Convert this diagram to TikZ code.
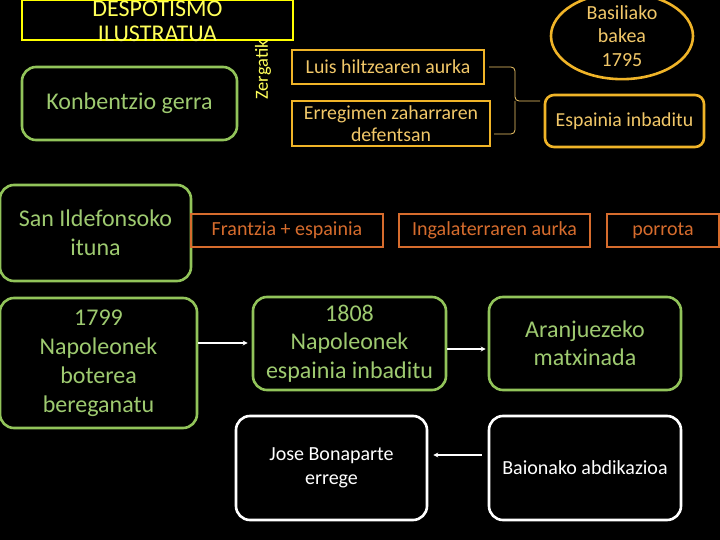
\documentclass[tikz,border=0pt]{standalone}
\usepackage{fontspec}
\setmainfont{Carlito}
\usetikzlibrary{shapes.geometric,arrows.meta}
\definecolor{yel}{RGB}{255,255,0}
\definecolor{yeltx}{RGB}{255,255,90}
\definecolor{gold}{RGB}{240,180,40}
\definecolor{goldtx}{RGB}{242,200,105}
\definecolor{brn}{RGB}{214,108,45}
\definecolor{grn}{RGB}{146,196,90}
\definecolor{grntx}{RGB}{158,202,112}
\tikzset{
  gbox/.style={draw=grn,line width=2.6pt,rounded corners=14pt,inner sep=0pt,align=center,text=grntx},
  wbox/.style={draw=white,line width=2.6pt,rounded corners=14pt,inner sep=0pt,align=center,text=white},
  obox/.style={draw=gold,line width=2.4pt,inner sep=0pt,align=center,text=goldtx},
  bbox/.style={draw=brn,line width=2.4pt,inner sep=0pt,align=center,text=brn},
  arr/.style={draw=white,line width=1.3pt,-{Stealth[length=5pt,width=5pt]}},
  brc/.style={draw=goldtx,line width=0.8pt,rounded corners=4pt}
}
\begin{document}
\begin{tikzpicture}[x=1pt,y=-1pt]
\fill[black] (0,0) rectangle (720,540);
\useasboundingbox (0,0) rectangle (720,540);
\clip (0,0) rectangle (720,540);
% top-left
\node[draw=yel,line width=2.6pt,minimum width=271pt,minimum height=40pt,inner sep=0pt] (desp) at (157.5,20) {};
\node[text=yeltx,align=center,font=\fontsize{24}{25}\selectfont,inner sep=0pt] (despt) at (157.5,21) {DESPOTISMO\\ILUSTRATUA};
\node[gbox,minimum width=215pt,minimum height=73pt,font=\fontsize{24}{28}\selectfont] (konb) at (129.5,103.5) {Konbentzio gerra};
\node[text=yeltx,rotate=90,font=\fontsize{18.5}{22}\selectfont,inner sep=0pt] (zerg) at (263,70) {Zergatik};
% orange boxes
\node[obox,minimum width=192pt,minimum height=34pt,font=\fontsize{19.8}{22}\selectfont] (luis) at (388,67) {Luis hiltzearen aurka};
\node[obox,minimum width=198pt,minimum height=45pt,font=\fontsize{19.8}{22}\selectfont] (erreg) at (391,123.5) {Erregimen zaharraren\\defentsan};
\coordinate (bt) at (540,101);
\draw[brc] ([xshift=4pt]luis.east) -| (515,101) -- (bt);
\draw[brc] ([xshift=3pt]erreg.east |- 0,134) -| (515,101);
\node[draw=gold,line width=2.6pt,ellipse,minimum width=142pt,minimum height=76pt,inner sep=0pt,align=center,text=goldtx,font=\fontsize{20}{23.5}\selectfont] (basil) at (622,36) {Basiliako\\bakea\\1795};
\node[obox,rounded corners=9pt,line width=2.6pt,minimum width=159pt,minimum height=52pt,font=\fontsize{19.8}{22}\selectfont] (espi) at (624.5,121) {Espainia inbaditu};
% row 3
\node[gbox,minimum width=191pt,minimum height=96pt,font=\fontsize{24}{29}\selectfont] (sanild) at (95.5,233) {San Ildefonsoko\\ituna};
\node[bbox,minimum width=192pt,minimum height=33pt,font=\fontsize{20}{22}\selectfont] (fran) at (287,230.5) {Frantzia + espainia};
\node[bbox,minimum width=191pt,minimum height=33pt,font=\fontsize{20}{22}\selectfont] (inga) at (494.5,230.5) {Ingalaterraren aurka};
\node[bbox,minimum width=112pt,minimum height=33pt,font=\fontsize{20}{22}\selectfont] (porr) at (663,230.5) {porrota};
% row 4
\node[gbox,minimum width=197pt,minimum height=130pt,font=\fontsize{24}{29}\selectfont] (n1799) at (98.5,363) {1799\\Napoleonek\\boterea\\bereganatu};
\node[gbox,minimum width=193pt,minimum height=93pt,font=\fontsize{24}{28.5}\selectfont] (n1808) at (349.5,343.5) {1808\\Napoleonek\\espainia inbaditu};
\node[gbox,minimum width=192pt,minimum height=93pt,font=\fontsize{24}{28}\selectfont] (aranj) at (585,343.5) {Aranjuezeko\\matxinada};
\node[wbox,minimum width=191pt,minimum height=104pt,font=\fontsize{20}{24}\selectfont] (jose) at (331.5,468) {Jose Bonaparte\\errege};
\node[wbox,minimum width=192pt,minimum height=104pt,font=\fontsize{20}{22}\selectfont] (baion) at (585,468) {Baionako abdikazioa};
% arrows
\coordinate (ya) at (0,343);
\coordinate (yb) at (0,349);
\coordinate (yc) at (0,455);
\draw[arr] (n1799.east |- ya) -- ([xshift=-4pt]n1808.west |- ya);
\draw[arr] (n1808.east |- yb) -- ([xshift=-2pt]aranj.west |- yb);
\draw[arr] ([xshift=-6pt]baion.west |- yc) -- ([xshift=5pt]jose.east |- yc);
\end{tikzpicture}
\end{document}
